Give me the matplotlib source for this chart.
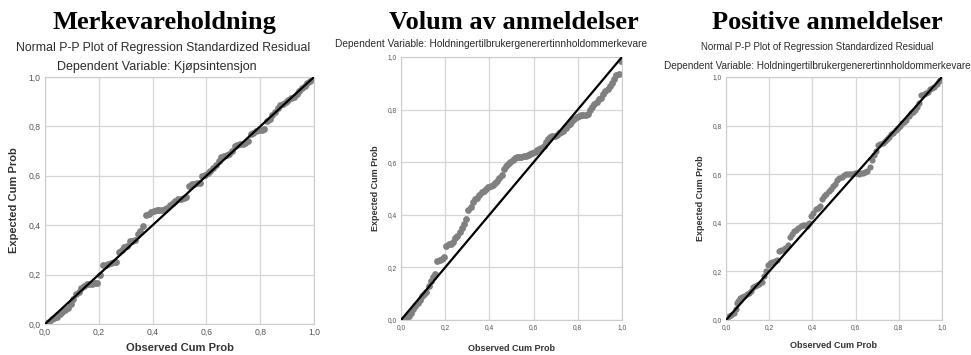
import numpy as np
import matplotlib.pyplot as plt

# Normal P-P plots of regression standardized residuals, three models
titles = ["Merkevareholdning", "Volum av anmeldelser", "Positive anmeldelser"]
sub_pp = "Normal P-P Plot of Regression Standardized Residual"
dep_1 = "Dependent Variable: Kjøpsintensjon"
dep_2 = "Dependent Variable: Holdningertilbrukergenerertinnholdommerkevare"
tick_vals = [0.0, 0.2, 0.4, 0.6, 0.8, 1.0]
tick_labels = ["0,0", "0,2", "0,4", "0,6", "0,8", "1,0"]

# observed / expected cumulative probabilities
obs_1 = [0.005, 0.015, 0.025, 0.035, 0.045, 0.055, 0.065, 0.075, 0.085, 0.095,
         0.105, 0.115, 0.125, 0.135, 0.145, 0.155, 0.165, 0.175, 0.185, 0.195,
         0.205, 0.215, 0.225, 0.235, 0.245, 0.255, 0.265, 0.275, 0.285, 0.295,
         0.305, 0.315, 0.325, 0.335, 0.345, 0.355, 0.365, 0.375, 0.385, 0.395,
         0.405, 0.415, 0.425, 0.435, 0.445, 0.455, 0.465, 0.475, 0.485, 0.495,
         0.505, 0.515, 0.525, 0.535, 0.545, 0.555, 0.565, 0.575, 0.585, 0.595,
         0.605, 0.615, 0.625, 0.635, 0.645, 0.655, 0.665, 0.675, 0.685, 0.695,
         0.705, 0.715, 0.725, 0.735, 0.745, 0.755, 0.765, 0.775, 0.785, 0.795,
         0.805, 0.815, 0.825, 0.835, 0.845, 0.855, 0.865, 0.875, 0.885, 0.895,
         0.905, 0.915, 0.925, 0.935, 0.945, 0.955, 0.965, 0.975, 0.985, 0.995]
exp_1 = [0.005, 0.01, 0.02, 0.025, 0.03, 0.04, 0.05, 0.055, 0.065, 0.08,
         0.1, 0.12, 0.13, 0.145, 0.155, 0.16, 0.16, 0.162, 0.165, 0.168,
         0.2, 0.238, 0.24, 0.242, 0.245, 0.25, 0.252, 0.29, 0.3, 0.31,
         0.315, 0.335, 0.338, 0.34, 0.365, 0.375, 0.395, 0.44, 0.445, 0.455,
         0.458, 0.46, 0.46, 0.46, 0.465, 0.47, 0.48, 0.49, 0.5, 0.505,
         0.508, 0.51, 0.515, 0.56, 0.565, 0.568, 0.57, 0.572, 0.6, 0.605,
         0.61, 0.62, 0.63, 0.645, 0.66, 0.675, 0.68, 0.685, 0.69, 0.7,
         0.72, 0.725, 0.73, 0.73, 0.732, 0.74, 0.77, 0.775, 0.78, 0.785,
         0.785, 0.79, 0.82, 0.83, 0.845, 0.86, 0.875, 0.885, 0.89, 0.9,
         0.905, 0.915, 0.92, 0.93, 0.945, 0.955, 0.965, 0.975, 0.985, 0.995]

obs_2 = [0.005, 0.015, 0.025, 0.035, 0.045, 0.055, 0.065, 0.075, 0.085, 0.095,
         0.105, 0.115, 0.125, 0.135, 0.145, 0.155, 0.165, 0.175, 0.185, 0.195,
         0.205, 0.215, 0.225, 0.235, 0.245, 0.255, 0.265, 0.275, 0.285, 0.295,
         0.305, 0.315, 0.325, 0.335, 0.345, 0.355, 0.365, 0.375, 0.385, 0.395,
         0.405, 0.415, 0.425, 0.435, 0.445, 0.455, 0.465, 0.475, 0.485, 0.495,
         0.505, 0.515, 0.525, 0.535, 0.545, 0.555, 0.565, 0.575, 0.585, 0.595,
         0.605, 0.615, 0.625, 0.635, 0.645, 0.655, 0.665, 0.675, 0.685, 0.695,
         0.705, 0.715, 0.725, 0.735, 0.745, 0.755, 0.765, 0.775, 0.785, 0.795,
         0.805, 0.815, 0.825, 0.835, 0.845, 0.855, 0.865, 0.875, 0.885, 0.895,
         0.905, 0.915, 0.925, 0.935, 0.945, 0.955, 0.965, 0.975, 0.985, 0.997]
exp_2 = [0.0, 0.005, 0.01, 0.015, 0.025, 0.04, 0.055, 0.065, 0.075, 0.09,
         0.1, 0.105, 0.13, 0.15, 0.165, 0.175, 0.225, 0.228, 0.232, 0.24,
         0.28, 0.288, 0.29, 0.295, 0.31, 0.32, 0.335, 0.35, 0.365, 0.385,
         0.42, 0.43, 0.45, 0.46, 0.465, 0.475, 0.485, 0.49, 0.5, 0.505,
         0.51, 0.515, 0.52, 0.53, 0.54, 0.55, 0.575, 0.585, 0.595, 0.6,
         0.61, 0.615, 0.618, 0.62, 0.62, 0.622, 0.625, 0.628, 0.63, 0.635,
         0.64, 0.645, 0.65, 0.655, 0.66, 0.675, 0.69, 0.695, 0.7, 0.7,
         0.705, 0.71, 0.715, 0.72, 0.73, 0.74, 0.745, 0.755, 0.765, 0.77,
         0.775, 0.78, 0.78, 0.78, 0.785, 0.8, 0.81, 0.82, 0.83, 0.84,
         0.845, 0.86, 0.87, 0.88, 0.89, 0.9, 0.915, 0.93, 0.935, 0.985]

obs_3 = [0.005, 0.015, 0.025, 0.035, 0.045, 0.05, 0.055, 0.065, 0.075, 0.085,
         0.095, 0.105, 0.115, 0.125, 0.135, 0.145, 0.155, 0.165, 0.175, 0.185,
         0.195, 0.205, 0.215, 0.225, 0.235, 0.245, 0.255, 0.265, 0.275, 0.285,
         0.295, 0.305, 0.315, 0.325, 0.335, 0.345, 0.355, 0.365, 0.375, 0.385,
         0.395, 0.405, 0.415, 0.425, 0.435, 0.445, 0.455, 0.465, 0.475, 0.485,
         0.495, 0.505, 0.515, 0.525, 0.535, 0.545, 0.555, 0.565, 0.575, 0.585,
         0.595, 0.605, 0.615, 0.625, 0.635, 0.645, 0.655, 0.665, 0.675, 0.685,
         0.695, 0.705, 0.715, 0.725, 0.735, 0.745, 0.755, 0.765, 0.775, 0.785,
         0.795, 0.805, 0.815, 0.825, 0.835, 0.845, 0.855, 0.865, 0.875, 0.885,
         0.895, 0.905, 0.915, 0.925, 0.935, 0.945, 0.955, 0.965, 0.975, 0.985,
         0.995]
exp_3 = [0.005, 0.015, 0.02, 0.03, 0.045, 0.07, 0.08, 0.09, 0.095, 0.1,
         0.105, 0.11, 0.12, 0.135, 0.14, 0.145, 0.15, 0.155, 0.18, 0.2,
         0.225, 0.235, 0.24, 0.242, 0.245, 0.285, 0.29, 0.29, 0.295, 0.31,
         0.34, 0.355, 0.365, 0.37, 0.38, 0.385, 0.39, 0.39, 0.385, 0.4,
         0.43, 0.44, 0.455, 0.46, 0.47, 0.5, 0.51, 0.52, 0.53, 0.54,
         0.55, 0.56, 0.575, 0.585, 0.59, 0.595, 0.6, 0.6, 0.6, 0.6,
         0.605, 0.605, 0.6, 0.605, 0.605, 0.61, 0.615, 0.63, 0.66, 0.68,
         0.695, 0.72, 0.725, 0.73, 0.735, 0.745, 0.755, 0.765, 0.77, 0.78,
         0.79, 0.8, 0.81, 0.815, 0.825, 0.84, 0.85, 0.855, 0.865, 0.875,
         0.895, 0.925, 0.93, 0.935, 0.94, 0.95, 0.955, 0.96, 0.97, 0.985,
         0.995]

plt.rcParams['font.family'] = ['Liberation Sans', 'DejaVu Sans']
fig = plt.figure(figsize=(9.71, 3.55), dpi=100)
W, H = 971.0, 355.0


def px_box(x0, y0, x1, y1):
    return [x0 / W, 1 - y1 / H, (x1 - x0) / W, (y1 - y0) / H]


def pp_axes(box, obs, exp, tick_fs, lab_fs, ms, ylab_x, xlab_y):
    x0, y0, x1, y1 = box
    ax = fig.add_axes(px_box(*box))
    ax.set_xlim(0, 1)
    ax.set_ylim(0, 1)
    ax.grid(True, color='#d6d6d6', lw=0.9)
    ax.set_axisbelow(True)
    for s in ax.spines.values():
        s.set_color('#cccccc')
        s.set_linewidth(0.8)
    ax.set_xticks(tick_vals, tick_labels)
    ax.set_yticks(tick_vals, tick_labels)
    ax.tick_params(length=0, pad=3, labelsize=tick_fs, labelcolor='#555555')
    ax.scatter(obs, exp, s=ms, color='#808080', lw=0, zorder=2)
    ax.plot([0, 1], [0, 1], color='black', lw=1.6, zorder=3)
    ax.set_xlabel("Observed Cum Prob", fontsize=lab_fs, fontweight='bold',
                  color='#333333')
    ax.set_ylabel("Expected Cum Prob", fontsize=lab_fs, fontweight='bold',
                  color='#333333')
    # label positions given in pixels, converted to axes fractions
    ax.yaxis.set_label_coords((ylab_x - x0) / (x1 - x0), 0.5)
    ax.xaxis.set_label_coords(0.5, (y1 - xlab_y) / (y1 - y0))
    return ax


pp_axes((45, 77, 314, 324), obs_1, exp_1, 6.2, 8, 24, 19, 343)
pp_axes((401, 57, 622, 320), obs_2, exp_2, 4.8, 6.5, 24, 380, 344)
pp_axes((726, 77, 942, 320), obs_3, exp_3, 4.8, 6.5, 20, 705, 341)

# headings
title_x = [164, 514, 827]
for t, x in zip(titles, title_x):
    fig.text(x / W, 1 - 29 / H, t, ha='center', va='baseline',
             family='Liberation Serif', fontweight='bold', fontsize=19)

sub_col = '#2b2b2b'
fig.text(163 / W, 1 - 48 / H, sub_pp, ha='center', va='center',
         fontsize=8.8, color=sub_col)
fig.text(157 / W, 1 - 67 / H, dep_1, ha='center', va='center',
         fontsize=9, color=sub_col)
fig.text(491 / W, 1 - 44 / H, dep_2, ha='center', va='center',
         fontsize=7.3, color=sub_col)
fig.text(817 / W, 1 - 47 / H, sub_pp, ha='center', va='center',
         fontsize=7.05, color=sub_col)
fig.text(817 / W, 1 - 66 / H, dep_2, ha='center', va='center',
         fontsize=7.2, color=sub_col)

fig.savefig("out.png", dpi=100)
